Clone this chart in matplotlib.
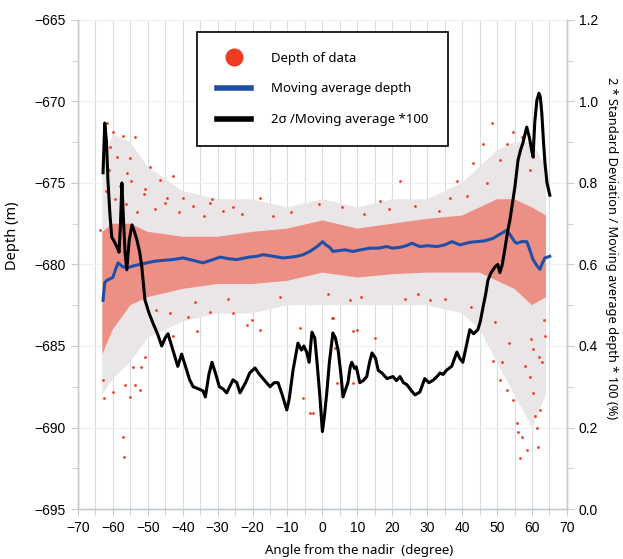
import matplotlib
matplotlib.use("Agg")
import matplotlib.pyplot as plt
from matplotlib.lines import Line2D
from matplotlib.ticker import MultipleLocator

RED = "#ef3b24"
BLUE = "#1f4fa8"
HAZE = "#eaf0f4"
GRID = "#d6dde3"

# 2*sigma / moving average * 100 (right axis)
sd_angle = [-62.8, -62.3, -61.8, -61.4, -60.8, -60.3, -59.5, -58.8, -58.2, -57.8, -57.4, -57.0,
            -56.5, -56.0, -55.3, -54.5, -53.8, -53.1, -52.3, -51.7, -50.8, -49.6, -48.5, -47.2,
            -46.0, -45.0, -44.2, -42.8, -41.4, -40.3, -39.2, -38.0, -37.0, -35.5, -34.2, -33.5,
            -32.5, -31.6, -30.5, -29.5, -28.5, -27.4, -25.6, -24.5, -23.6, -22.0, -20.8, -19.3,
            -18.0, -16.5, -15.0, -13.8, -12.7, -11.5, -10.2, -9.5, -8.4, -7.0, -6.0, -5.3,
            -4.5, -3.8, -3.0, -2.2, -1.6, -0.8, 0.0, 0.6, 1.3, 2.0, 3.0, 3.7,
            4.5, 5.3, 5.9, 6.5, 7.3, 8.0, 8.4, 9.2, 9.7, 10.7, 11.7, 12.7,
            13.5, 14.2, 15.2, 16.0, 17.0, 18.5, 20.2, 21.2, 22.2, 23.2, 24.2, 25.5,
            26.5, 27.9, 29.3, 30.5, 31.7, 32.8, 33.7, 34.5, 35.6, 37.0, 38.5, 39.3,
            40.2, 41.2, 42.2, 43.3, 44.5, 45.2, 46.0, 46.8, 47.4, 48.3, 49.4, 50.2,
            50.8, 51.5, 52.2, 53.0, 53.7, 54.4, 55.1, 56.0, 56.7, 57.4, 58.0, 58.5,
            59.0, 59.4, 59.9, 60.3, 60.8, 61.4, 62.0, 62.4, 62.8, 63.3, 63.7, 64.3,
            64.7, 65.1]
sd_value = [0.825, 0.947, 0.90, 0.807, 0.72, 0.667, 0.655, 0.643, 0.63, 0.70, 0.80, 0.72,
            0.63, 0.587, 0.66, 0.697, 0.68, 0.66, 0.63, 0.594, 0.513, 0.48, 0.456, 0.43,
            0.40, 0.42, 0.43, 0.39, 0.35, 0.38, 0.35, 0.317, 0.30, 0.295, 0.29, 0.275,
            0.33, 0.36, 0.33, 0.30, 0.295, 0.285, 0.317, 0.31, 0.285, 0.31, 0.334, 0.346,
            0.33, 0.315, 0.30, 0.31, 0.31, 0.28, 0.243, 0.27, 0.341, 0.407, 0.39, 0.40,
            0.385, 0.36, 0.434, 0.42, 0.366, 0.285, 0.19, 0.23, 0.29, 0.36, 0.432, 0.42,
            0.39, 0.33, 0.275, 0.29, 0.31, 0.35, 0.36, 0.345, 0.349, 0.31, 0.315, 0.325,
            0.36, 0.383, 0.37, 0.34, 0.334, 0.32, 0.325, 0.315, 0.325, 0.31, 0.305, 0.29,
            0.28, 0.287, 0.32, 0.31, 0.316, 0.325, 0.334, 0.33, 0.341, 0.35, 0.385, 0.37,
            0.36, 0.40, 0.44, 0.43, 0.44, 0.46, 0.496, 0.53, 0.562, 0.58, 0.594, 0.60,
            0.58, 0.60, 0.636, 0.68, 0.71, 0.75, 0.79, 0.856, 0.88, 0.898, 0.92, 0.937,
            0.92, 0.905, 0.88, 0.864, 0.95, 1.003, 1.02, 1.01, 0.972, 0.90, 0.85, 0.80,
            0.785, 0.77]

# moving average depth (left axis)
ma_angle = [-62.8, -62.3, -61.5, -60.0, -59.2, -58.5, -57.1, -55.7, -54.3, -52.3, -50.2, -48.0,
            -45.7, -42.8, -39.9, -37.9, -34.2, -32.0, -29.3, -26.8, -24.5, -21.0, -18.8, -17.0,
            -14.0, -11.3, -9.0, -7.3, -5.5, -3.6, -1.5, 0.1, 1.0, 2.1, 3.0, 4.8,
            6.4, 8.7, 11.0, 13.6, 16.0, 18.4, 20.0, 22.2, 24.0, 25.6, 27.9, 30.0,
            32.8, 35.0, 37.1, 39.4, 42.0, 44.2, 46.5, 48.8, 50.8, 52.8, 53.5, 55.0,
            55.7, 57.0, 58.5, 59.2, 60.3, 61.5, 62.3, 63.0, 63.7, 65.1]
ma_depth = [-682.2, -681.1, -680.95, -680.8, -680.3, -679.9, -680.15, -680.2, -680.1, -680.0, -679.9, -679.8,
            -679.75, -679.7, -679.6, -679.7, -679.9, -679.75, -679.55, -679.65, -679.7, -679.55, -679.5, -679.4,
            -679.5, -679.6, -679.55, -679.5, -679.4, -679.2, -678.9, -678.6, -678.8, -678.95, -679.2, -679.15,
            -679.1, -679.2, -679.1, -679.0, -679.0, -678.9, -679.0, -678.95, -678.85, -678.7, -678.9, -678.85,
            -678.9, -678.8, -678.6, -678.8, -678.65, -678.6, -678.55, -678.4, -678.15, -677.9, -678.1, -678.6,
            -678.7, -678.6, -678.6, -679.0, -679.7, -680.1, -680.3, -679.9, -679.6, -679.5]

# extent of the depth data cloud (dense core and sparse outer part)
band_angle = [-63, -60, -55, -50, -40, -30, -20, -10, 0, 10, 20, 30, 40, 45, 50, 55, 60, 64]
core_top = [-678.0, -677.5, -677.5, -678.0, -678.3, -678.3, -678.0, -677.8, -677.3, -677.8,
            -677.5, -677.2, -677.0, -676.5, -676.0, -676.0, -676.5, -677.0]
core_bottom = [-685.5, -684.0, -682.5, -682.0, -681.5, -681.2, -681.2, -681.0, -680.5, -680.8,
               -680.6, -680.5, -680.5, -680.5, -681.0, -681.5, -682.5, -682.0]
outer_top = [-674.0, -672.0, -672.5, -674.0, -675.5, -676.0, -676.0, -676.5, -676.0, -676.5,
             -676.0, -676.0, -675.0, -674.0, -673.0, -672.5, -672.5, -674.0]
outer_bottom = [-688.0, -687.0, -686.0, -684.5, -683.5, -683.0, -683.0, -682.5, -682.5, -682.5,
                -682.5, -682.5, -683.0, -684.0, -686.0, -688.0, -690.0, -688.0]

# scattered single soundings outside the main cloud
pt_angle = [-62.8, -62.6, -60.0, -57.1, -56.8, -55.1, -56.5, -53.7, -52.3, -50.8, -54.3, -52.0,
            -38.5, -35.9, -32.2, -25.6, -21.7, -17.9, -5.9, -5.6, -3.6, -43.7, -42.8, -20.2,
            -6.5, 2.7, 3.6, 4.2, 8.7, 9.9, 15.0, 23.6, 7.9, 8.7, 3.0, 30.8, -2.7,
            48.8, 50.8, 51.5, 52.8, 54.5, 55.7, 56.0, 56.6, 57.2, 58.5, 59.4, 60.3, 61.7,
            61.5, 62.3, 60.8, 62.8, 63.7, 60.3, 59.8,
            -61.7, -60.0, -57.1, -53.7, -58.8, -55.1, -49.4, -46.5, -50.8, -39.9, -31.6, -25.6,
            -45.1, -56.0, -60.8, -42.8, -17.9, -32.2, -63.7,
            38.5, 48.5, 54.5, 46.0, 50.8, 57.1, 43.1, 22.2, 16.5, 36.5, 47.1, 52.8, 60.3, 59.4,
            -62.0, -61.0, -59.5, -58.0, -56.2, -54.8, -53.0, -51.2, -48.0, -44.5, -41.0, -37.0,
            -34.0, -28.5, -23.0, -14.0, -9.0, -1.0, 5.5, 12.0, 19.0, 26.5, 33.5, 41.5,
            -47.5, -36.5, -27.0, -12.0, 1.5, 11.0, 27.5, 35.0, 42.5, 49.5, 53.5, 58.0, 62.0, 63.5]
pt_depth = [-687.1, -688.2, -687.8, -690.6, -691.8, -688.1, -687.4, -687.4, -687.7, -685.7, -686.3, -686.3,
            -683.2, -684.1, -682.9, -683.0, -683.7, -684.0, -685.2, -688.2, -689.1, -683.0, -684.4, -683.4,
            -683.9, -683.3, -685.1, -687.3, -687.3, -684.0, -684.5, -682.1, -682.2, -684.1, -683.3, -682.2, -689.1,
            -685.9, -687.1, -686.0, -687.7, -688.3, -689.7, -690.3, -691.9, -690.6, -691.4, -686.9, -687.9, -691.2,
            -690.0, -688.9, -689.3, -686.0, -684.4, -685.2, -684.6,
            -671.3, -671.9, -672.1, -672.2, -673.4, -673.5, -674.0, -674.8, -675.4, -675.9, -676.0, -676.5,
            -676.2, -674.4, -672.8, -674.6, -675.9, -676.2, -677.9,
            -674.9, -671.3, -671.9, -672.6, -673.6, -672.2, -673.8, -674.9, -676.1, -675.9, -675.0, -672.6, -673.4, -674.2,
            -675.5, -674.2, -676.0, -675.2, -676.3, -674.9, -676.8, -675.7, -676.6, -675.9, -676.8, -676.4,
            -677.0, -676.7, -676.9, -677.0, -676.8, -676.3, -676.5, -676.9, -676.6, -676.4, -676.7, -675.8,
            -682.8, -682.3, -682.1, -682.0, -681.8, -682.0, -681.8, -682.1, -682.6, -683.5, -684.8, -686.2, -685.7, -683.4]

plt.rcParams["font.family"] = ["Liberation Sans", "DejaVu Sans"]

fig = plt.figure(figsize=(6.23, 5.59), dpi=100)
ax = fig.add_axes([0.125, 0.0894, 0.785, 0.875])
ax2 = ax.twinx()

# data cloud
ax.fill_between(band_angle, outer_bottom, outer_top, facecolor=HAZE, edgecolor="none", zorder=1)
ax.fill_between(band_angle, outer_bottom, outer_top, facecolor=RED, alpha=0.06,
                edgecolor="none", zorder=1.5)
ax.fill_between(band_angle, core_bottom, core_top, facecolor=RED, alpha=0.5,
                edgecolor="none", zorder=2)
ax.scatter(pt_angle, pt_depth, s=4, color=RED, linewidths=0, zorder=3)
ax.plot(ma_angle, ma_depth, color=BLUE, lw=2.2, zorder=4)

ax2.plot(sd_angle, sd_value, color="black", lw=2.2, zorder=5)

ax.set_xlim(-70, 70)
ax.set_ylim(-695, -665)
ax2.set_ylim(0, 1.2)

ax.xaxis.set_major_locator(MultipleLocator(10))
ax.xaxis.set_minor_locator(MultipleLocator(5))
ax.yaxis.set_major_locator(MultipleLocator(5))
ax.yaxis.set_minor_locator(MultipleLocator(2.5))
ax2.yaxis.set_major_locator(MultipleLocator(0.2))
ax2.yaxis.set_minor_locator(MultipleLocator(0.1))
ax2.yaxis.set_major_formatter(plt.FormatStrFormatter("%.1f"))

ax.grid(True, which="both", axis="x", color=GRID, lw=0.8, zorder=0)
ax.grid(True, which="major", axis="y", color="#edf0f2", lw=0.8, zorder=0)
ax.set_axisbelow(True)

for a in (ax, ax2):
    for side in ("left", "right", "bottom", "top"):
        a.spines[side].set_color("#c4cbd1")
        a.spines[side].set_linewidth(1.0)
    a.tick_params(which="both", color="#c4cbd1", labelsize=10, direction="out")
    a.tick_params(which="major", length=5)
    a.tick_params(which="minor", length=4)
ax.spines["top"].set_visible(False)
ax2.spines["top"].set_visible(False)

lab_font = ["Noto Sans", "DejaVu Sans"]
ax.set_xlabel("Angle from the nadir  (degree)", family=lab_font, fontsize=9.5)
ax.xaxis.set_label_coords(0.575, -0.072)
ax.set_ylabel("Depth (m)", family=lab_font, fontsize=10.5)
ax.yaxis.set_label_coords(-0.119, 0.558)
ax2.set_ylabel("2 * Standard Deviation / Moving average depth * 100 (%)", family=lab_font,
               fontsize=9.2, rotation=270, va="center")
ax2.yaxis.set_label_coords(1.092, 0.534)

handles = [
    Line2D([], [], marker="o", ls="", color=RED, markersize=12),
    Line2D([], [], color=BLUE, lw=4),
    Line2D([], [], color="black", lw=4),
]
labels = ["Depth of data", "Moving average depth", "2\u03c3 /Moving average *100"]
leg = ax2.legend(handles, labels, loc="upper left", bbox_to_anchor=(0.243, 0.9755),
                 borderaxespad=0, frameon=True, fancybox=False, edgecolor="black",
                 framealpha=1, borderpad=1.5, labelspacing=1.35, handlelength=2.6,
                 handletextpad=1.5, prop={"family": lab_font, "size": 9.5})
leg.get_frame().set_linewidth(1.2)

fig.savefig("out.png", dpi=100)
